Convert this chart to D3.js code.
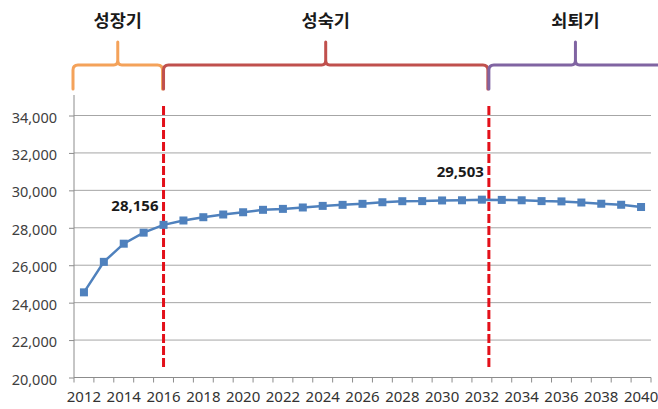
<!DOCTYPE html>
<html>
<head>
<meta charset="utf-8">
<script src="https://cdn.jsdelivr.net/npm/d3@7"></script>
<style>
  html, body { margin: 0; padding: 0; background: #fff; }
  svg { display: block; }
</style>
</head>
<body>
<svg id="chart" width="658" height="409"></svg>
<script>
// ---- data ----
const years = d3.range(2012, 2041).map(String);
const values = [24550, 26180, 27150, 27740, 28156, 28390, 28565, 28710, 28830, 28960,
                29010, 29085, 29170, 29225, 29280, 29365, 29420, 29425, 29460, 29470,
                29503, 29490, 29470, 29425, 29410, 29350, 29285, 29230, 29110];
const yTicks = [20000, 22000, 24000, 26000, 28000, 30000, 32000, 34000];
const xTickLabels = years.filter((d, i) => i % 2 === 0);
const phases = ["성장기", "성숙기", "쇠퇴기"];
const labelledYears = ["2016", "2032"];

// ---- layout ----
const svg = d3.select("#chart");
const x = d3.scaleBand().domain(years).range([74, 651]);
const y = d3.scaleLinear().domain([20000, 34000]).range([377.5, 115.5]);
const numFont = "'Noto Sans', 'Malgun Gothic', sans-serif";
const krFont = "'Noto Sans CJK KR', 'Malgun Gothic', sans-serif";

// gridlines
svg.append("g").selectAll("line").data(yTicks.filter(d => d > 20000)).join("line")
  .attr("x1", 74).attr("x2", 651)
  .attr("y1", d => y(d)).attr("y2", d => y(d))
  .attr("stroke", "#a6a6a6").attr("stroke-width", 1);

// y axis
const yAxis = d3.axisLeft(y).tickValues(yTicks).tickSize(5).tickPadding(12)
  .tickFormat(d3.format(","));
const gy = svg.append("g").attr("transform", "translate(74,0)").call(yAxis);
gy.select(".domain").remove();
gy.append("line").attr("x1", 0).attr("x2", 0).attr("y1", 95).attr("y2", y(20000))
  .attr("stroke", "#8c8c8c");
gy.selectAll(".tick line").attr("stroke", "#8c8c8c");
gy.selectAll(".tick text").attr("font-family", numFont).attr("font-size", 14.5)
  .attr("fill", "#404040").attr("dy", "0.45em");

// x axis
const xAxis = d3.axisBottom(x).tickValues(xTickLabels).tickSize(0).tickPadding(14);
const gx = svg.append("g").attr("transform", `translate(0,${y(20000)})`).call(xAxis);
gx.select(".domain").attr("stroke", "#8c8c8c").attr("d", `M74,0H651`);
gx.selectAll(".tick text").attr("font-family", numFont).attr("font-size", 15)
  .attr("fill", "#333");
// category boundary tick marks
gx.append("g").selectAll("line").data(d3.range(years.length + 1)).join("line")
  .attr("x1", i => x.range()[0] + i * x.step()).attr("x2", i => x.range()[0] + i * x.step())
  .attr("y1", 0).attr("y2", 5).attr("stroke", "#8c8c8c");

// phase divider dashed lines
const divX = [x("2016") + x.bandwidth() / 2, x("2032") + x.bandwidth() / 2 + 7];
svg.append("g").selectAll("line").data(divX).join("line")
  .attr("x1", d => d).attr("x2", d => d).attr("y1", 106).attr("y2", 370)
  .attr("stroke", "#e3101a").attr("stroke-width", 3).attr("stroke-dasharray", "9,3");

// line series
const cx = d => x(d) + x.bandwidth() / 2;
svg.append("path").datum(years)
  .attr("d", d3.line().x(d => cx(d)).y((d, i) => y(values[i])))
  .attr("fill", "none").attr("stroke", "#4f81bd").attr("stroke-width", 2.5);
svg.append("g").selectAll("rect").data(years).join("rect")
  .attr("x", d => cx(d) - 4).attr("y", (d, i) => y(values[i]) - 4)
  .attr("width", 8).attr("height", 8).attr("fill", "#4f81bd");

// data labels
svg.append("g").selectAll("text").data(labelledYears).join("text")
  .attr("x", d => cx(d) - 5 + (d === "2032" ? 7 : 0))
  .attr("y", d => d === "2016" ? 211 : 177)
  .attr("text-anchor", "end").attr("font-family", numFont).attr("font-weight", "bold")
  .attr("font-size", 15).attr("fill", "#1a1a1a")
  .text(d => d3.format(",")(values[years.indexOf(d)]));

// phase braces
const braceY = 65, hookY = 89, spikeY = 42;
const braces = [
  { x0: 73, x1: divX[0] - 1, color: "#f4a25a" },
  { x0: divX[0], x1: divX[1] - 1, color: "#c0504d" },
  { x0: divX[1], x1: 700, color: "#8064a2" }
];
function bracePath(b) {
  const xc = (b.x0 + b.x1) / 2, r = 5;
  const right = Math.min(b.x1, 658);
  const xm = b.x1 > 658 ? (b.x0 + 658) / 2 + 2 : xc;
  let p = `M${b.x0},${hookY} L${b.x0},${braceY + r} Q${b.x0},${braceY} ${b.x0 + r},${braceY}`;
  p += ` L${xm - 4},${braceY} Q${xm},${braceY} ${xm},${braceY - 5} L${xm},${spikeY}`;
  p += ` M${xm},${braceY - 5} Q${xm},${braceY} ${xm + 4},${braceY}`;
  if (b.x1 > 658) {
    p += ` L${right},${braceY}`;
  } else {
    p += ` L${b.x1 - r},${braceY} Q${b.x1},${braceY} ${b.x1},${braceY + r} L${b.x1},${hookY}`;
  }
  b.xm = xm;
  return p;
}
svg.append("g").selectAll("path").data(braces).join("path")
  .attr("d", bracePath).attr("fill", "none").attr("stroke", d => d.color)
  .attr("stroke-width", 3).attr("stroke-linejoin", "round").attr("stroke-linecap", "round");

svg.append("g").selectAll("text").data(phases).join("text")
  .attr("x", (d, i) => braces[i].xm).attr("y", 27)
  .attr("text-anchor", "middle").attr("font-family", krFont).attr("font-weight", "bold")
  .attr("font-size", 17.5).attr("fill", "#1a1a1a")
  .text(d => d);
</script>
</body>
</html>
